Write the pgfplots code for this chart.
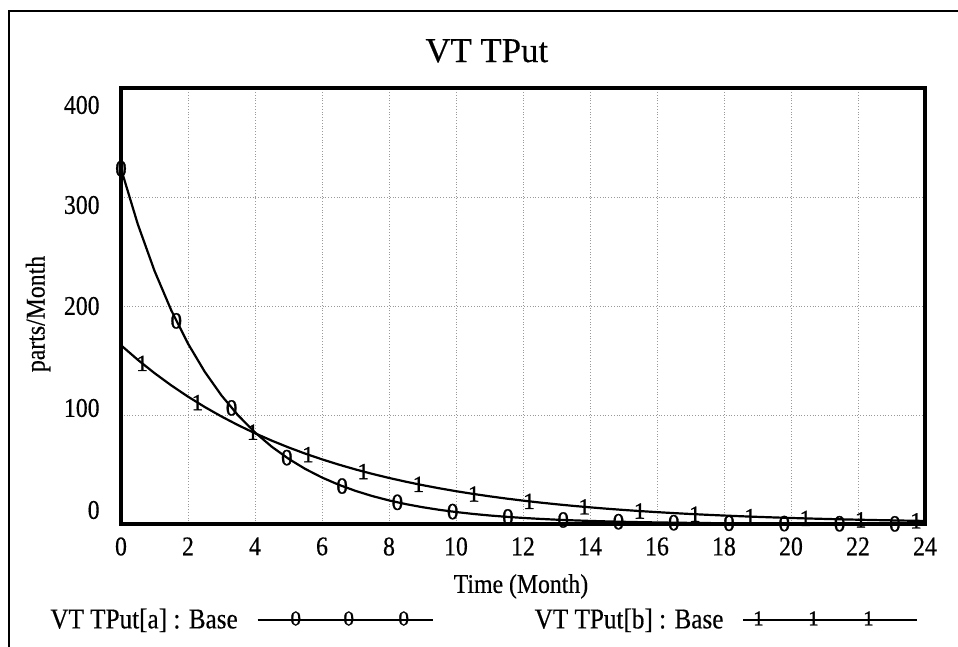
\documentclass[border=0pt]{standalone}
\usepackage{pgfplots}
\pgfplotsset{compat=1.18}
\usepackage{pgfplotstable}
\usepackage{fontspec}
\setmainfont{Liberation Serif}[FakeBold=0.4]
\newfontfamily\nf{Liberation Serif}[FakeStretch=0.88, FakeBold=0.4]
\newfontfamily\mf{Liberation Serif}[FakeBold=1.2]
\newcommand\rl[2]{\raisebox{#1}[\height][\depth]{#2}}

% VT TPut[a] and VT TPut[b], every half month
\pgfplotstableread{
t a b
0 326.00 164.00
0.5 275.17 150.67
1 232.27 138.43
1.5 196.06 127.18
2 165.49 116.85
2.5 139.69 107.35
3 117.91 98.63
3.5 99.53 90.62
4 84.01 83.25
4.5 70.91 76.49
5 59.86 70.27
5.5 50.52 64.56
6 42.65 59.32
6.5 36.00 54.50
7 30.39 50.07
7.5 25.65 46.00
8 21.65 42.26
8.5 18.27 38.83
9 15.42 35.67
9.5 13.02 32.78
10 10.99 30.11
10.5 9.28 27.67
11 7.83 25.42
11.5 6.61 23.35
12 5.58 21.46
12.5 4.71 19.71
13 3.97 18.11
13.5 3.35 16.64
14 2.83 15.29
14.5 2.39 14.04
15 2.02 12.90
15.5 1.70 11.85
16 1.44 10.89
16.5 1.21 10.01
17 1.02 9.19
17.5 0.86 8.45
18 0.73 7.76
18.5 0.62 7.13
19 0.52 6.55
19.5 0.44 6.02
20 0.37 5.53
20.5 0.31 5.08
21 0.26 4.67
21.5 0.22 4.29
22 0.19 3.94
22.5 0.16 3.62
23 0.13 3.33
23.5 0.11 3.06
24 0.10 2.81
}\curves

% marker positions
\pgfplotstableread{
t a
0 326.00
1.65 186.34
3.3 106.51
4.95 60.88
6.6 34.80
8.25 19.89
9.9 11.37
11.55 6.50
13.2 3.71
14.85 2.12
16.5 1.21
18.15 0.69
19.8 0.40
21.45 0.23
23.1 0.13
}\marksa

\pgfplotstableread{
t b
0.63 147.39
2.28 111.43
3.93 84.24
5.58 63.69
7.23 48.15
8.88 36.40
10.53 27.52
12.18 20.81
13.83 15.73
15.48 11.89
17.13 8.99
18.78 6.80
20.43 5.14
22.08 3.88
23.73 2.94
}\marksb

\begin{document}
\begin{tikzpicture}
\useasboundingbox (0pt,0pt) rectangle (479pt,-323.5pt);
\draw[line width=1pt] (4.5pt,-340pt) -- (4.5pt,-5.5pt) -- (500pt,-5.5pt);
\begin{axis}[
  at={(60.5pt,-262pt)}, anchor=south west,
  scale only axis, width=402pt, height=218pt,
  xmin=0, xmax=24, ymin=0, ymax=400,
  xtick={0,2,...,24}, ytick={0,100,...,400},
  yticklabels={\rl{7pt}{0},\rl{3.5pt}{100},200,\rl{-4pt}{300},\rl{-8.5pt}{400}},
  major tick length=0pt,
  grid=major,
  grid style={densely dotted, gray!80, line width=0.5pt},
  axis line style={line width=1.7pt},
  tick label style={font=\nf\fontsize{13.5}{14}\selectfont, inner sep=0pt},
  /pgf/number format/assume math mode=true,
  xticklabel style={yshift=-6.5pt},
  yticklabel style={xshift=-10.5pt},
  title={VT TPut},
  every axis title shift=0pt,
  title style={font=\fontsize{17.4}{18}\selectfont, inner sep=0pt,
    at={(axis description cs:0.455,1.0596)}, anchor=base},
  xlabel={Time (Month)},
  xlabel style={font=\nf\fontsize{13.5}{14}\selectfont, inner sep=0pt,
    at={(axis description cs:0.4975,-0.158)}, anchor=base},
  ylabel={parts/Month},
  ylabel style={font=\nf\fontsize{13.5}{14}\selectfont, inner sep=0pt,
    at={(axis description cs:-0.1032,0.4817)}, anchor=center},
  legend columns=2, legend plot pos=right,
  legend style={at={(axis description cs:-0.0883,-0.220)}, anchor=west,
    draw=none, fill=none, inner sep=0pt,
    font=\nf\fontsize{14.3}{15}\selectfont, nodes={inner sep=0pt},
    /tikz/every odd column/.append style={column sep=9.5pt},
    /tikz/every even column/.append style={column sep=50.5pt}},
]
\addplot[black, line width=1.1pt,
  legend image code/.code={
    \draw[black, line width=1pt] (0pt,0pt) -- (87.5pt,0pt);
    \node[font=\mf\fontsize{10.5}{11}\selectfont, inner sep=0pt] at (19pt,0pt) {0};
    \node[font=\mf\fontsize{10.5}{11}\selectfont, inner sep=0pt] at (45.5pt,0pt) {0};
    \node[font=\mf\fontsize{10.5}{11}\selectfont, inner sep=0pt] at (73pt,0pt) {0};
  }] table[x=t, y=a] {\curves};
\addlegendentry{VT TPut[a] : Base}
\addplot[black, line width=1.1pt,
  legend image code/.code={
    \draw[black, line width=1pt] (0pt,0pt) -- (87pt,0pt);
    \node[font=\mf\fontsize{10.5}{11}\selectfont, inner sep=0pt] at (7.5pt,0pt) {1};
    \node[font=\mf\fontsize{10.5}{11}\selectfont, inner sep=0pt] at (35pt,0pt) {1};
    \node[font=\mf\fontsize{10.5}{11}\selectfont, inner sep=0pt] at (62.5pt,0pt) {1};
  }] table[x=t, y=b] {\curves};
\addlegendentry{VT TPut[b] : Base}
\addplot[forget plot, only marks, black, mark=text, text mark={0}, text mark as node=true,
  text mark style={font=\mf\fontsize{11.5}{12}\selectfont, inner sep=0pt}]
  table[x=t, y=a] {\marksa};
\addplot[forget plot, only marks, black, mark=text, text mark={1}, text mark as node=true,
  text mark style={font=\mf\fontsize{11.5}{12}\selectfont, inner sep=0pt}]
  table[x=t, y=b] {\marksb};
\end{axis}
\end{tikzpicture}
\end{document}
